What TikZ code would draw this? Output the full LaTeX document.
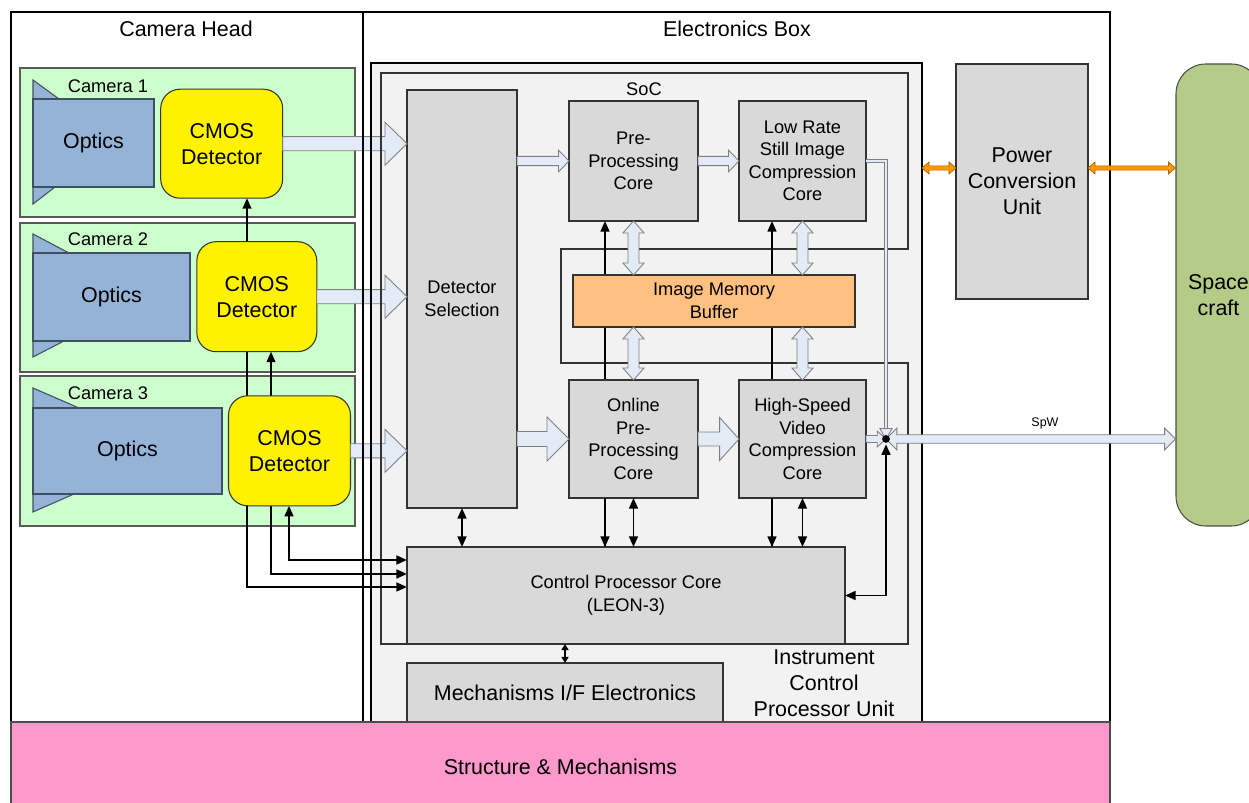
\documentclass[tikz,border=0pt]{standalone}
\usepackage{fontspec}
\setmainfont{Liberation Sans}
\usetikzlibrary{arrows.meta,calc}
\pgfdeclarelayer{bg}
\pgfdeclarelayer{mid}
\pgfdeclarelayer{top}
\pgfsetlayers{bg,mid,main,top}
\definecolor{camgreen}{HTML}{CCFFCC}
\definecolor{optblue}{HTML}{95B3D7}
\definecolor{optedge}{HTML}{3F4F63}
\definecolor{boxgray}{HTML}{D9D9D9}
\definecolor{unitgray}{HTML}{F2F2F2}
\definecolor{bufforange}{HTML}{FFC080}
\definecolor{arrowfill}{HTML}{E3EBF7}
\definecolor{arrowedge}{HTML}{7F7F7F}
\definecolor{scgreen}{HTML}{B5CB88}
\definecolor{pinkband}{HTML}{FF99CC}
\definecolor{pwrorange}{HTML}{FF9900}
\definecolor{pwredge}{HTML}{A65F00}
\tikzset{
  bigtxt/.style={font=\fontsize{12.2}{14.8}\selectfont},
  medtxt/.style={font=\fontsize{10.4}{12.8}\selectfont},
  smalltxt/.style={font=\fontsize{7.1}{8.5}\selectfont},
  wh/.style 2 args={minimum width=#1*0.02cm, minimum height=#2*0.02cm},
  corebox/.style={draw=black!80, line width=0.6pt, fill=boxgray, inner sep=0pt, outer sep=0pt, align=center, medtxt},
  cmosbox/.style={draw=black!80, line width=0.6pt, fill=yellow, rounded corners=11pt, inner sep=0pt, outer sep=0pt, align=center, bigtxt},
  cambox/.style={draw=black!65, line width=0.6pt, fill=camgreen, inner sep=0pt, outer sep=0pt},
  optshape/.style={draw=optedge, line width=0.6pt, fill=optblue},
  lbl/.style={inner sep=0pt, align=center},
  conn/.style={line width=1.1pt, draw=black},
  blk/.style={fill=arrowfill, draw=arrowedge, line width=0.5pt},
  pwr/.style={fill=pwrorange, draw=pwredge, line width=0.4pt},
  thickln/.style={line width=1.2pt, draw=black},
  thinln/.style={line width=0.6pt, draw=black!80}
}
% horizontal block arrow, left to right
\newcommand\hblk[6][blk]{\path[#1] let \p1=#2, \p2=#3 in (\x1,\y1+#4) -- (\x2-#6,\y1+#4) -- (\x2-#6,\y1+#5) -- (\x2,\y1) -- (\x2-#6,\y1-#5) -- (\x2-#6,\y1-#4) -- (\x1,\y1-#4) -- cycle;}
% horizontal double block arrow
\newcommand\hdbl[6][blk]{\path[#1] let \p1=#2, \p2=#3 in (\x1,\y1) -- (\x1+#6,\y1+#5) -- (\x1+#6,\y1+#4) -- (\x2-#6,\y1+#4) -- (\x2-#6,\y1+#5) -- (\x2,\y1) -- (\x2-#6,\y1-#5) -- (\x2-#6,\y1-#4) -- (\x1+#6,\y1-#4) -- (\x1+#6,\y1-#5) -- cycle;}
% vertical double block arrow, first point on top
\newcommand\vdbl[6][blk]{\path[#1] let \p1=#2, \p2=#3 in (\x1,\y1) -- (\x1+#5,\y1-#6) -- (\x1+#4,\y1-#6) -- (\x1+#4,\y2+#6) -- (\x1+#5,\y2+#6) -- (\x1,\y2) -- (\x1-#5,\y2+#6) -- (\x1-#4,\y2+#6) -- (\x1-#4,\y1-#6) -- (\x1-#5,\y1-#6) -- cycle;}
\begin{document}
\begin{tikzpicture}[x=0.02cm, y=-0.02cm, >={Triangle[length=6pt,width=5pt]}]
\useasboundingbox (0,0) rectangle (1249,803);

\begin{pgfonlayer}{bg}
  \draw[thinln, draw=black, fill=white] (363,12) rectangle (1110,770);
  \draw[thickln, fill=white] (11,12) rectangle (363,770);
  \draw[thickln, fill=unitgray] (371,63) rectangle (922,770);
  \draw[thinln, fill=unitgray] (381,73) -- (908,73) -- (908,249) -- (561,249) -- (561,363) -- (908,363) -- (908,644) -- (381,644) -- cycle;
  % cameras
  \node[cambox, wh={335}{149}] (cam1) at (187.5,142.5) {};
  \node[cambox, wh={335}{149}] (cam2) at (187.5,297.5) {};
  \node[cambox, wh={335}{150}] (cam3) at (187.5,451) {};
  % optics
  \draw[optshape] (33,80) -- (59,99) -- (154,99) -- (154,187) -- (55,187) -- (33,204) -- cycle;
  \draw[optshape, fill=none] (33,99) rectangle (154,187);
  \draw[optshape] (33,234) -- (69,253) -- (190,253) -- (190,341) -- (64,341) -- (33,357) -- cycle;
  \draw[optshape, fill=none] (33,253) rectangle (190,341);
  \draw[optshape] (33,388) -- (79,408) -- (222,408) -- (222,494) -- (74,494) -- (33,512) -- cycle;
  \draw[optshape, fill=none] (33,408) rectangle (222,494);
\end{pgfonlayer}

% titles
\node[lbl, bigtxt] (chlbl) at (186,29) {Camera Head};
\node[lbl, bigtxt] (eblbl) at (737,29) {Electronics Box};
\node[lbl, medtxt] (soclbl) at (644,89) {SoC};
\node[lbl, bigtxt] (icpulbl) at (824,683) {Instrument\\Control\\Processor Unit};
\node[lbl, medtxt] (c1lbl) at (108,86) {Camera 1};
\node[lbl, medtxt] (c2lbl) at (108,239) {Camera 2};
\node[lbl, medtxt] (c3lbl) at (108,393) {Camera 3};
\node[lbl, bigtxt] (opt1) at (93.5,143) {Optics};
\node[lbl, bigtxt] (opt2) at (111.5,297) {Optics};
\node[lbl, bigtxt] (opt3) at (127.5,451) {Optics};

% detectors
\node[cmosbox, wh={122}{109}] (cmos1) at (221.7,143.7) {CMOS\\Detector};
\node[cmosbox, wh={120}{110}] (cmos2) at (256.8,296.7) {CMOS\\Detector};
\node[cmosbox, wh={122}{110}] (cmos3) at (289.5,450.8) {CMOS\\Detector};

% cores
\node[corebox, wh={110}{418}] (ds) at (462,299) {Detector\\Selection};
\node[corebox, wh={129}{120}] (pre) at (633.5,161) {Pre-\\Processing\\Core};
\node[corebox, wh={127}{120}] (lr) at (802.5,161) {Low Rate\\Still Image\\Compression\\Core};
\node[corebox, fill=bufforange, wh={282}{52}] (imb) at (714,301) {Image Memory\\Buffer};
\node[corebox, wh={129}{118}] (online) at (633.5,439) {Online\\Pre-\\Processing\\Core};
\node[corebox, wh={127}{118}] (hs) at (802.5,439) {High-Speed\\Video\\Compression\\Core};
\node[corebox, wh={438}{97}] (cpc) at (626,595.5) {Control Processor Core\\(LEON-3)};
\node[corebox, bigtxt, wh={316}{60}] (mech) at (565,693) {Mechanisms I/F Electronics};
\node[corebox, bigtxt, wh={132}{235}] (pcu) at (1022,181.5) {Power\\Conversion\\Unit};
\node[draw=black!70, line width=0.6pt, fill=scgreen, rounded corners=17pt, inner sep=0pt, align=center, bigtxt, wh={85}{462}] (sc) at (1218.5,295) {Space\\craft};

\coordinate (ca) at (247,587);
\coordinate (cb) at (271,574);
\coordinate (cc) at (289,560);
\coordinate (xp) at (605,0);
\coordinate (xq) at (772,0);
\coordinate (jn) at (886,439);
\coordinate (icpuE) at (922,168);

\begin{pgfonlayer}{mid}
  \draw[conn,<->] (cmos1.south -| ca) -- (ca) -- (cpc.west |- ca);
  \draw[conn,<->] (cmos2.south -| cb) -- (cb) -- (cpc.west |- cb);
  \draw[conn,<->] (cmos3.south -| cc) -- (cc) -- (cpc.west |- cc);
  \draw[conn,->] (cpc.north -| xp) -- (pre.south -| xp);
  \draw[conn,->] (cpc.north -| xq) -- (lr.south -| xq);
\end{pgfonlayer}

% black connectors in front
\draw[conn,->] (online.south -| xp) -- (cpc.north -| xp);
\draw[conn,->] (hs.south -| xq) -- (cpc.north -| xq);
\draw[conn,<->] (online.south) -- (online.south |- cpc.north);
\draw[conn,<->] (hs.south) -- (hs.south |- cpc.north);
\draw[conn,<->] (ds.south) -- (ds.south |- cpc.north);
\draw[line width=0.9pt, {Triangle[length=3.5pt,width=4pt]}-{Triangle[length=3.5pt,width=4pt]}] (mech.north) -- (mech.north |- cpc.south);

% block arrows
\hblk{(cmos1.east)}{(ds.west |- cmos1.east)}{4pt}{12.2pt}{12.5pt}
\hblk{(cmos2.east)}{(ds.west |- cmos2.east)}{4pt}{12.2pt}{12.5pt}
\hblk{(cmos3.east)}{(ds.west |- cmos3.east)}{4pt}{12.2pt}{12.5pt}
\hblk{(ds.east |- pre.west)}{(pre.west)}{2.6pt}{6.2pt}{6pt}
\hblk{(pre.east)}{(lr.west)}{2.6pt}{6.2pt}{6pt}
\hblk{(ds.east |- online.west)}{(online.west)}{4.3pt}{12.5pt}{12.5pt}
\hblk{(online.east)}{(hs.west)}{4pt}{12.2pt}{11pt}
\vdbl{(pre.south)}{(pre.south |- imb.north)}{3.1pt}{6pt}{6.8pt}
\vdbl{(lr.south)}{(lr.south |- imb.north)}{3.1pt}{6pt}{6.8pt}
\vdbl{(online.north |- imb.south)}{(online.north)}{3.1pt}{6pt}{6.8pt}
\vdbl{(hs.north |- imb.south)}{(hs.north)}{3.1pt}{6pt}{6.8pt}

% redraw borders over the detector arrows
\draw[thickln] (363,100) -- (363,500);
\draw[thickln] (371,100) -- (371,500);
\draw[thinln] (381,100) -- (381,500);

% power arrows
\hdbl[pwr]{(icpuE)}{(pcu.west |- icpuE)}{1.2pt}{3.4pt}{4pt}
\hdbl[pwr]{(pcu.east |- icpuE)}{(sc.west |- icpuE)}{1.2pt}{3.4pt}{4pt}

% SpW junction
\draw[draw=arrowedge, line width=0.5pt, double=arrowfill, double distance=1.6pt] (lr.east) -- (lr.east -| jn) -- ([yshift=5pt]jn);
\path[blk] let \p1=(jn) in (\x1,\y1) -- (\x1-3.5pt,\y1+6pt) -- (\x1+3.5pt,\y1+6pt) -- cycle;
\hblk{(hs.east)}{(jn)}{2pt}{4.5pt}{5pt}
\hdbl{(jn)}{(sc.west |- jn)}{2.4pt}{6.2pt}{6.2pt}
\node[lbl, smalltxt] (spw) at (1045,423) {SpW};
\draw[conn,<->] ([yshift=-3pt]jn) -- (jn |- cpc.east) -- (cpc.east);
\fill (jn) circle (2.2pt);

\begin{pgfonlayer}{top}
  \node[draw=black!70, line width=0.6pt, fill=pinkband, inner sep=0pt, bigtxt, wh={1099}{90}] (sm) at (560.5,767) {Structure \& Mechanisms};
\end{pgfonlayer}
\end{tikzpicture}
\end{document}
